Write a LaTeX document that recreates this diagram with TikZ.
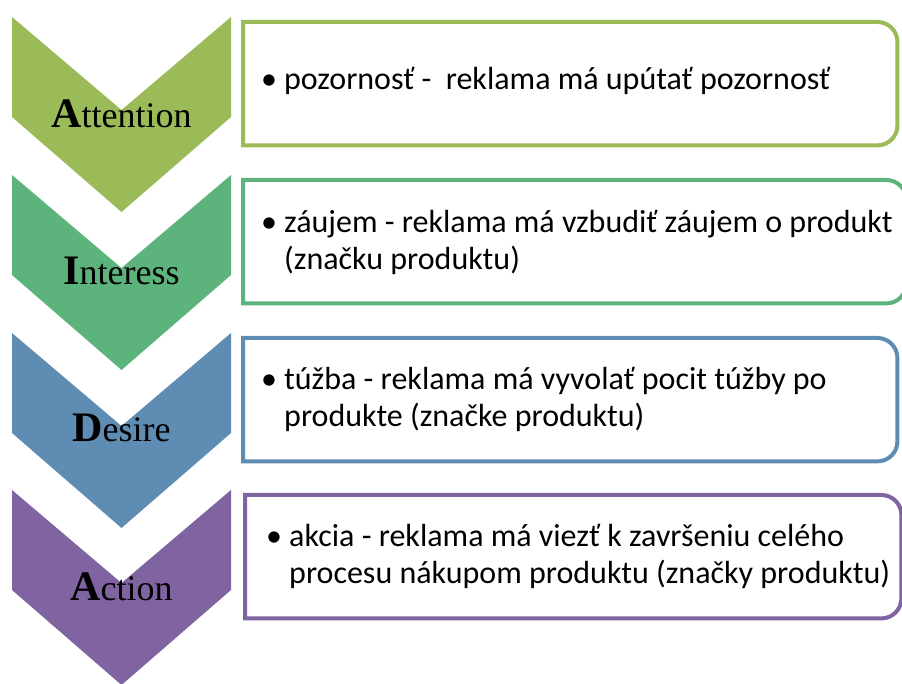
\documentclass[tikz,border=0pt]{standalone}
\usepackage{fontspec}
\setmainfont{Liberation Serif}
\newfontfamily\bodyfont{Carlito}
\usetikzlibrary{calc}

\definecolor{attcol}{HTML}{9BBB59}
\definecolor{intcol}{HTML}{5CB47C}
\definecolor{descol}{HTML}{5F8CB2}
\definecolor{actcol}{HTML}{8064A2}

\tikzset{
  stage/.style={anchor=base, inner sep=0pt, font=\fontsize{36}{40}\selectfont},
  boxarea/.style={minimum height=123pt, anchor=north west, inner sep=0pt},
  boxline/.style={line width=4pt},
  desc/.style={anchor=west, align=left, inner sep=0pt,
    font=\bodyfont\fontsize{32}{37}\selectfont},
}
\newcommand{\capletter}[1]{{\fontsize{42}{44}\selectfont\bfseries #1}}
\newcommand{\itembul}{\makebox[23pt][l]{\textbullet}}

\begin{document}
\begin{tikzpicture}[x=1pt,y=1pt]
    \def\chl{12}      % left side of the chevrons
    \def\chr{231}     % right side of the chevrons
    \def\chm{121.5}   % middle of the chevrons
    \def\rad{20}      % corner radius of the boxes

    \useasboundingbox (0,0) rectangle (902,683);

    % Draw the chevrons
    \fill[attcol] (\chl,666) -- (\chm,573) -- (\chr,666) -- (\chr,566) -- (\chm,471) -- (\chl,566) -- cycle;
    \fill[intcol] (\chl,508) -- (\chm,415) -- (\chr,508) -- (\chr,408) -- (\chm,313) -- (\chl,408) -- cycle;
    \fill[descol] (\chl,350) -- (\chm,257) -- (\chr,350) -- (\chr,250) -- (\chm,155) -- (\chl,250) -- cycle;
    \fill[actcol] (\chl,193) -- (\chm,100) -- (\chr,193) -- (\chr,93) -- (\chm,-2) -- (\chl,93) -- cycle;

    % Label the chevrons
    \node[stage] (attention) at (\chm,555) {\capletter{A}ttention};
    \node[stage] (interess) at (\chm,398) {\capletter{I}nteress};
    \node[stage] (desire) at (\chm,241) {\capletter{D}esire};
    \node[stage] (action) at (\chm,83) {\capletter{A}ction};

    % Draw the boxes
    \node[boxarea, minimum width=654pt] (b1) at (243,661) {};
    \node[boxarea, minimum width=663pt] (b2) at (243,503) {};
    \node[boxarea, minimum width=654pt] (b3) at (243,345) {};
    \node[boxarea, minimum width=656pt] (b4) at (245,188) {};

    \draw[boxline, attcol] (b1.south west) -- (b1.north west) -- ([xshift=-\rad]b1.north east)
      arc[start angle=90, end angle=0, radius=\rad] -- ([yshift=\rad]b1.south east)
      arc[start angle=0, end angle=-90, radius=\rad] -- cycle;
    \draw[boxline, intcol] (b2.south west) -- (b2.north west) -- ([xshift=-\rad]b2.north east)
      arc[start angle=90, end angle=0, radius=\rad] -- ([yshift=\rad]b2.south east)
      arc[start angle=0, end angle=-90, radius=\rad] -- cycle;
    \draw[boxline, descol] (b3.south west) -- (b3.north west) -- ([xshift=-\rad]b3.north east)
      arc[start angle=90, end angle=0, radius=\rad] -- ([yshift=\rad]b3.south east)
      arc[start angle=0, end angle=-90, radius=\rad] -- cycle;
    \draw[boxline, actcol] (b4.south west) -- (b4.north west) -- ([xshift=-\rad]b4.north east)
      arc[start angle=90, end angle=0, radius=\rad] -- ([yshift=\rad]b4.south east)
      arc[start angle=0, end angle=-90, radius=\rad] -- cycle;

    % Texts in the boxes
    \node[desc] (t1) at ([xshift=18pt,yshift=3pt]b1.west)
      {\itembul pozornosť -\ \ reklama má upútať pozornosť};
    \node[desc] (t2) at ([xshift=18pt,yshift=-1pt]b2.west)
      {\itembul záujem - reklama má vzbudiť záujem o produkt\\
       \hspace*{23pt}(značku produktu)};
    \node[desc] (t3) at ([xshift=18pt]b3.west)
      {\itembul túžba - reklama má vyvolať pocit túžby po\\
       \hspace*{23pt}produkte (značke produktu)};
    \node[desc] (t4) at ([xshift=21pt]b4.west)
      {\itembul akcia - reklama má viezť k završeniu celého\\
       \hspace*{23pt}procesu nákupom produktu (značky produktu)};
\end{tikzpicture}
\end{document}
